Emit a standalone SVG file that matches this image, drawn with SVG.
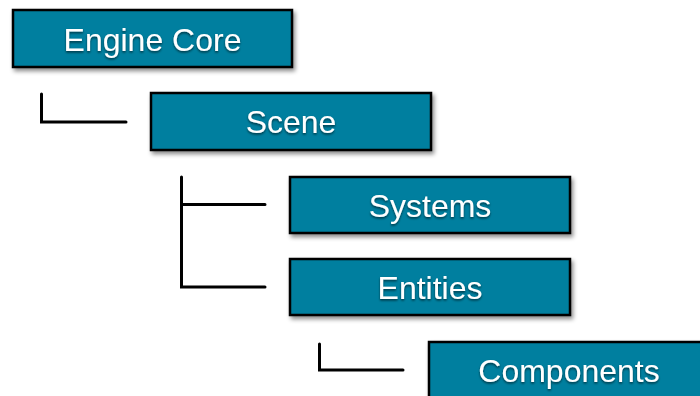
<svg xmlns="http://www.w3.org/2000/svg" width="700" height="396" viewBox="0 0 700 396">
<defs>
<filter id="boxShadow" x="-10%" y="-20%" width="130%" height="160%">
<feDropShadow dx="2" dy="3" stdDeviation="2" flood-color="#000" flood-opacity="0.45"/>
</filter>
<filter id="textShadow" x="-10%" y="-30%" width="120%" height="160%">
<feDropShadow dx="0" dy="1.5" stdDeviation="1" flood-color="#000" flood-opacity="0.6"/>
</filter>
<style>
.box { fill: #067f9f; stroke: #000; stroke-width: 2.5; filter: url(#boxShadow); }
.label { fill: #fff; font-family: "Liberation Sans", Arial, sans-serif; font-size: 32px; text-anchor: middle; filter: url(#textShadow); }
.conn { fill: none; stroke: #000; stroke-width: 3; stroke-linecap: round; stroke-linejoin: miter; }
</style>
</defs>
<rect width="700" height="396" fill="#fff"/>
<g id="connectors">
<path class="conn" d="M41.5,94 V122 H126"/>
<path class="conn" d="M181.5,177 V287 H265 M181.5,204.5 H265"/>
<path class="conn" d="M319.5,344 V370 H403"/>
</g>
<g id="engine-core">
<rect class="box" x="13" y="10" width="279" height="57"/>
<text class="label" x="152.5" y="51">Engine Core</text>
</g>
<g id="scene">
<rect class="box" x="151" y="93" width="280" height="57"/>
<text class="label" x="291" y="133">Scene</text>
</g>
<g id="systems">
<rect class="box" x="290" y="177" width="280" height="56"/>
<text class="label" x="430" y="217">Systems</text>
</g>
<g id="entities">
<rect class="box" x="290" y="259" width="280" height="56"/>
<text class="label" x="430" y="299">Entities</text>
</g>
<g id="components">
<rect class="box" x="429" y="342" width="280" height="56"/>
<text class="label" x="569" y="382">Components</text>
</g>
</svg>
